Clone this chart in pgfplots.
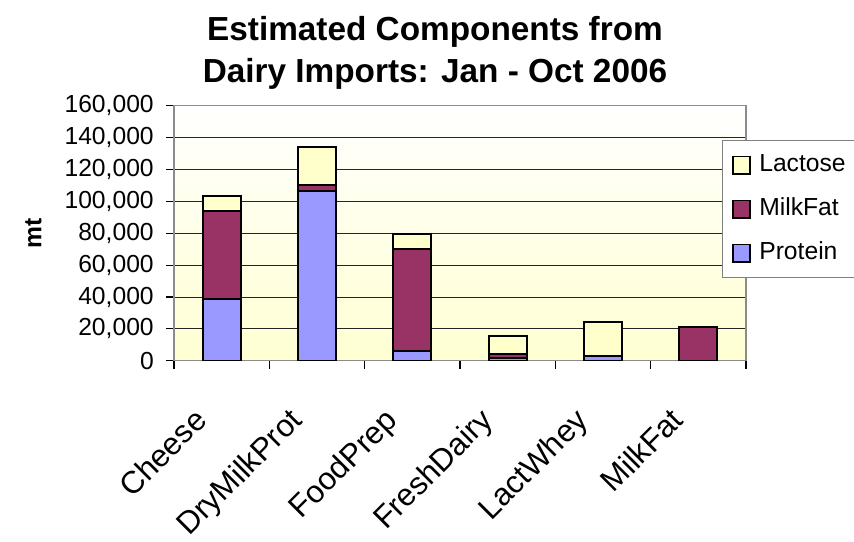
\documentclass[border=0pt]{standalone}
\usepackage{fontspec}
\setmainfont{Liberation Sans}
\usepackage{pgfplots}
\pgfplotsset{compat=1.18}
\definecolor{protein}{HTML}{9999FF}
\definecolor{milkfat}{HTML}{993366}
\definecolor{lactose}{HTML}{FFFFCC}
\definecolor{bgbottom}{HTML}{FFFFD2}
\pgfplotsset{mylegend/.style={legend image code/.code={\draw[##1,draw=black,line width=1.4pt] (0pt,-6.4pt) rectangle (12.8pt,6.4pt);}}}
\begin{document}
\begin{tikzpicture}[font=\fontsize{18.5}{22}\selectfont]
\begin{axis}[
  at={(0,0)}, anchor=south west,
  scale only axis, width=429pt, height=191.25pt,
  ybar stacked, bar width=0.4,
  xmin=-0.5, xmax=5.5, ymin=0, ymax=160000,
  xtick={-0.5,0.5,1.5,2.5,3.5,4.5,5.5},
  x tick label as interval,
  xticklabels={Cheese,DryMilkProt,FoodPrep,FreshDairy,LactWhey,MilkFat},
  xticklabel style={xshift=-22pt, yshift=-28pt, rotate=45, anchor=north east, inner sep=0pt, font=\fontsize{23.5}{28}\selectfont},
  ytick={0,20000,40000,60000,80000,100000,120000,140000,160000},
  scaled y ticks=false,
  yticklabel style={/pgf/number format/fixed, /pgf/number format/1000 sep={,}, /pgf/number format/assume math mode=true, inner sep=0pt, xshift=-9pt},
  tick pos=left,
  tick align=outside, major tick length=6pt,
  tick style={black, line width=0.8pt},
  ymajorgrids, grid style={black!85, line width=0.65pt},
  axis line style={draw=gray!90, line width=1.1pt},
  axis background/.style={top color=white, bottom color=bgbottom},
  ylabel={mt},
  ylabel style={at={(axis description cs:-0.2457,0.5)}, anchor=center, font=\fontsize{18.5}{22}\selectfont\bfseries},
  reverse legend,
  legend cell align=left,
  legend style={at={(axis description cs:0.958,0.8655)}, anchor=north west,
    draw=gray, line width=1pt, fill=white, inner xsep=7.3pt, inner ysep=9.8pt,
    row sep=16pt, column sep=6pt,
    nodes={inner sep=0pt, text height=13pt, text depth=4pt}},
]
\addplot[fill=protein, draw=black, line width=1.5pt, mylegend] coordinates {(0,38900) (1,106200) (2,5900) (3,1500) (4,3100) (5,0)};
\addlegendentry{Protein}
\addplot[fill=milkfat, draw=black, line width=1.5pt, mylegend] coordinates {(0,55100) (1,4200) (2,64300) (3,2700) (4,0) (5,21100)};
\addlegendentry{MilkFat}
\addplot[fill=lactose, draw=black, line width=1.5pt, mylegend] coordinates {(0,9300) (1,24000) (2,9100) (3,11100) (4,21000) (5,0)};
\addlegendentry{Lactose}
\end{axis}
\node[anchor=base, font=\fontsize{25}{30}\selectfont\bfseries] at (195.75pt,240.5pt) {Estimated Components from};
\node[anchor=base, font=\fontsize{25}{30}\selectfont\bfseries] at (195.75pt,208.3pt) {Dairy Imports: Jan - Oct 2006};
\pgfresetboundingbox
\useasboundingbox (-130.5pt,-135.25pt) rectangle (510pt,270.55pt);
\end{tikzpicture}
\end{document}
